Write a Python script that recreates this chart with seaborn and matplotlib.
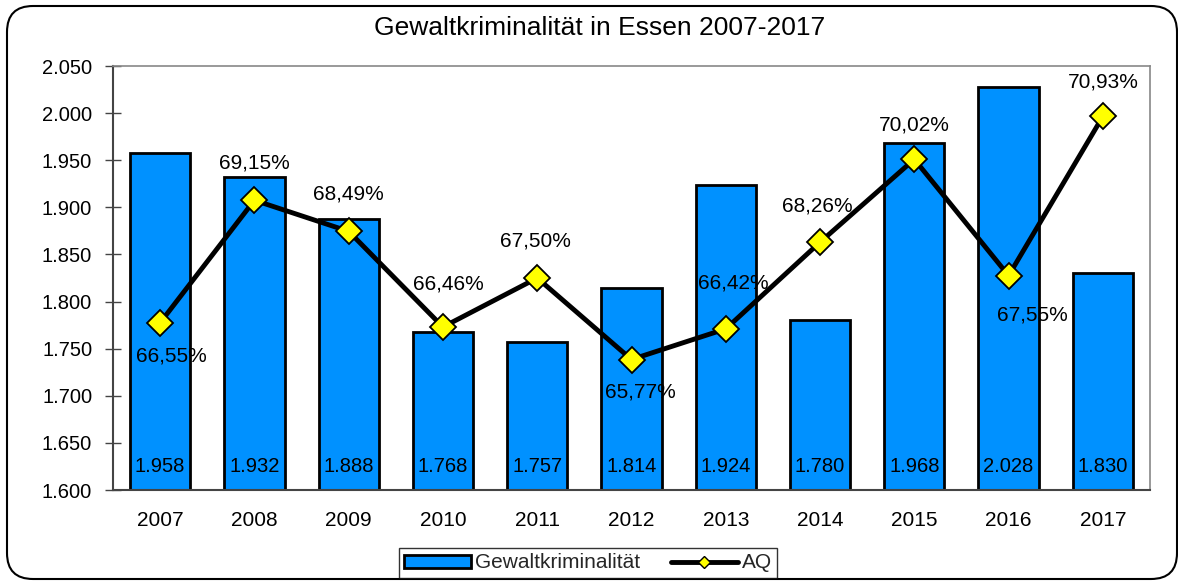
import matplotlib
matplotlib.use("Agg")
import matplotlib.pyplot as plt
import seaborn as sns
import pandas as pd
from matplotlib.patches import FancyBboxPatch
from matplotlib.lines import Line2D
from matplotlib.patches import Patch
from matplotlib.transforms import IdentityTransform

years = ["2007", "2008", "2009", "2010", "2011", "2012", "2013", "2014", "2015", "2016", "2017"]
gewalt = [1958, 1932, 1888, 1768, 1757, 1814, 1924, 1780, 1968, 2028, 1830]
aq = [66.55, 69.15, 68.49, 66.46, 67.50, 65.77, 66.42, 68.26, 70.02, 67.55, 70.93]
# label offsets (pixels) relative to the line points
aq_label_offsets = [(11, -33), (0, 37), (0, 37), (5, 43), (-2, 37), (9, -32), (8, 46), (-3, 36), (0, 34), (24, -39), (0, 34)]
y_ticks = [1600, 1650, 1700, 1750, 1800, 1850, 1900, 1950, 2000, 2050]

sns.set_theme(style="white")
plt.rcParams['font.family'] = ['Liberation Sans', 'DejaVu Sans']

bar_color = "#0091FF"
fs = 15

def de_num(v):
    return f"{v:,}".replace(",", ".")

fig = plt.figure(figsize=(11.78, 5.82), dpi=100)
ax = fig.add_axes([113/1178, 1-490/582, (1150-113)/1178, (490-66)/582])

df = pd.DataFrame({"Jahr": years, "Gewaltkriminalität": gewalt, "AQ": aq})
df["pos"] = range(len(years))

sns.barplot(data=df, x="Jahr", y="Gewaltkriminalität", ax=ax, color=bar_color,
            edgecolor="black", linewidth=2, width=0.64, saturation=1)
ax.set_ylim(1600, 2050)
ax.set_xlim(-0.5, len(years) - 0.5)
ax.set_yticks(y_ticks)
ax.set_yticklabels([de_num(t) for t in y_ticks])
ax.set_xlabel("")
ax.set_ylabel("")
ax.set_xticks(range(len(years)))
ax.set_xticklabels(years)
ax.set_xticks([i + 0.5 for i in range(-1, len(years))], minor=True)
ax.tick_params(axis="x", which="major", length=0, labelsize=fs, pad=15, colors="black")
ax.tick_params(axis="x", which="minor", direction="inout", length=12, width=1, color="#444444")
ax.tick_params(axis="y", direction="inout", length=12, width=1, color="#444444", labelsize=14.5, pad=9)
ax.tick_params(axis="y", labelcolor="black")

for s in ["top", "right"]:
    ax.spines[s].set_color("#888888")
    ax.spines[s].set_linewidth(1.2)
for s in ["left", "bottom"]:
    ax.spines[s].set_color("#444444")
    ax.spines[s].set_linewidth(1.5)

for i, v in enumerate(gewalt):
    ax.text(i, 1625, de_num(v), ha="center", va="center", fontsize=14.5, color="black")

ax2 = ax.twinx()
sns.lineplot(data=df, x="pos", y="AQ", ax=ax2, color="black", linewidth=3.5,
             marker="D", markersize=13, markerfacecolor="#FFFF00",
             markeredgecolor="black", markeredgewidth=1.3)
ax2.set_ylim(63, 72)
ax2.set_xlim(-0.5, len(years) - 0.5)
ax2.set_yticks([])
ax2.set_ylabel("")
ax2.set_xlabel("")
for s in ax2.spines.values():
    s.set_visible(False)

for i, (v, off) in enumerate(zip(aq, aq_label_offsets)):
    ax2.annotate(f"{v:.2f}".replace(".", ",") + "%", xy=(i, v), xytext=off,
                 textcoords="offset pixels", ha="center", va="center",
                 fontsize=fs, color="black")

fig.text(600/1178, 1-28/582, "Gewaltkriminalität in Essen 2007-2017",
         ha="center", va="center", fontsize=19, color="black")

handles = [Patch(facecolor=bar_color, edgecolor="black", linewidth=2),
           Line2D([0], [0], color="black", linewidth=3.5, marker="D", markersize=6,
                  markerfacecolor="#FFFF00", markeredgecolor="black")]
leg = fig.legend(handles, ["Gewaltkriminalität", "AQ"], loc="center",
                 bbox_to_anchor=(588/1178, 1-563/582), ncol=2, frameon=True,
                 fancybox=False, edgecolor="black", fontsize=fs,
                 handlelength=3.2, handleheight=0.6, columnspacing=1.5,
                 handletextpad=0.2, borderpad=0.25)
leg.get_frame().set_linewidth(1)

border = FancyBboxPatch((7, 3), 1170, 573,
                        boxstyle="round,pad=0,rounding_size=26",
                        transform=IdentityTransform(), facecolor="none",
                        edgecolor="black", linewidth=1.5)
fig.patches.append(border)

fig.savefig("out.png", dpi=100)
